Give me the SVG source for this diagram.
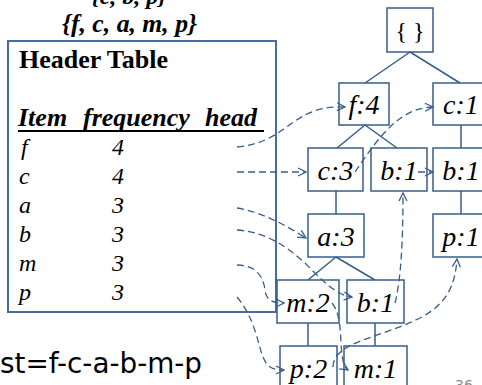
<svg xmlns="http://www.w3.org/2000/svg" width="482" height="385" viewBox="0 0 482 385">
<style>
.serif{font-family:"Liberation Serif","Times New Roman",serif;fill:#000}
.bi{font-weight:bold;font-style:italic}
.box{fill:#fff;stroke:#385D8A;stroke-width:1.5}
.edge{stroke:#385D8A;stroke-width:1.5;fill:none}
.dash{stroke:#385D8A;stroke-width:1.3;fill:none;stroke-dasharray:7 4;marker-end:url(#arr)}
.lbl{font-family:"Liberation Serif","Times New Roman",serif;font-style:italic;font-size:28px;text-anchor:middle;fill:#000}
.row{font-family:"Liberation Serif","Times New Roman",serif;font-style:italic;font-size:24px;fill:#000}
</style>
<defs>
<marker id="arr" viewBox="0 0 10 10" refX="9" refY="5" markerWidth="10" markerHeight="10" markerUnits="userSpaceOnUse" orient="auto">
<path d="M1,1 L9,5 L1,9" fill="none" stroke="#385D8A" stroke-width="1.3"/>
</marker>
</defs>

<g id="transactions">
<text class="serif bi" x="129" y="4" font-size="24" text-anchor="middle">{c, b, p}</text>
<text class="serif bi" x="62" y="32" font-size="25" textLength="135" lengthAdjust="spacingAndGlyphs">{f, c, a, m, p}</text>
</g>

<g id="header-table">
<rect x="8" y="41" width="268" height="271" fill="#fff" stroke="#4A6C9B" stroke-width="2"/>
<text class="serif" x="19" y="68" font-size="26" font-weight="bold">Header Table</text>
<text class="serif bi" y="126" font-size="26"><tspan x="18">Item</tspan><tspan x="83">frequency</tspan><tspan x="205">head</tspan></text>
<line x1="18" y1="131" x2="264" y2="131" stroke="#000" stroke-width="2"/>
<text class="row" x="21" y="155">f</text><text class="row" x="112" y="155">4</text>
<text class="row" x="19" y="184">c</text><text class="row" x="112" y="184">4</text>
<text class="row" x="19" y="213">a</text><text class="row" x="112" y="213">3</text>
<text class="row" x="19" y="242">b</text><text class="row" x="112" y="242">3</text>
<text class="row" x="19" y="271">m</text><text class="row" x="112" y="271">3</text>
<text class="row" x="19" y="300">p</text><text class="row" x="112" y="300">3</text>
</g>

<g id="list-text">
<text x="0" y="373" font-family="'DejaVu Sans',Verdana,sans-serif" font-size="28" fill="#000" textLength="202" lengthAdjust="spacingAndGlyphs">st=f-c-a-b-m-p</text>
</g>
<g id="page-number">
<text x="455" y="390" font-family="'DejaVu Sans',Verdana,sans-serif" font-size="14" fill="#8C8C8C">36</text>
</g>

<g id="node-root"><rect class="box" x="387" y="8" width="46" height="44"/><text class="serif" x="410" y="39" font-size="24" text-anchor="middle">{ }</text></g>
<g id="node-f4"><rect class="box" x="339" y="83" width="50" height="42"/><text class="lbl" x="364" y="114">f:4</text></g>
<g id="node-c1"><rect class="box" x="433" y="83" width="56" height="42"/><text class="lbl" x="461" y="114">c:1</text></g>
<g id="node-c3"><rect class="box" x="308" y="148" width="55" height="43"/><text class="lbl" x="335.5" y="180">c:3</text></g>
<g id="node-b1a"><rect class="box" x="371" y="148" width="56" height="43"/><text class="lbl" x="399" y="180">b:1</text></g>
<g id="node-b1b"><rect class="box" x="433" y="148" width="56" height="43"/><text class="lbl" x="461" y="180">b:1</text></g>
<g id="node-a3"><rect class="box" x="308" y="214" width="56" height="43"/><text class="lbl" x="336" y="246">a:3</text></g>
<g id="node-p1"><rect class="box" x="433" y="214" width="56" height="43"/><text class="lbl" x="461" y="246">p:1</text></g>
<g id="node-m2"><rect class="box" x="277" y="280" width="62" height="43"/><text class="lbl" x="308" y="312">m:2</text></g>
<g id="node-b1c"><rect class="box" x="347" y="280" width="57" height="43"/><text class="lbl" x="375.5" y="312">b:1</text></g>
<g id="node-p2"><rect class="box" x="280" y="346" width="57" height="45"/><text class="lbl" x="308.5" y="378">p:2</text></g>
<g id="node-m1"><rect class="box" x="344" y="346" width="63" height="45"/><text class="lbl" x="375.5" y="378">m:1</text></g>

<g id="connectors">
<path class="edge" d="M410,52 L365,83 M410,52 L460,83 M365,125 L337,148 M365,125 L397,148 M461,125 L461,148 M336,191 L336,214 M461,191 L461,214 M336,257 L308,280 M336,257 L375,280 M308,323 L308,346 M375,323 L375,346"/>
<path class="dash" d="M237,147 C290,142 290,105 345,107"/>
<path class="dash" d="M237,172 L306,172"/>
<path class="dash" d="M237,208 C262,212 285,225 306,238"/>
<path class="dash" d="M237,230 C265,232 285,245 305,263 C320,278 335,295 352,297"/>
<path class="dash" d="M237,265 C255,265 263,275 265,290 C266,300 272,303 284,303"/>
<path class="dash" d="M237,297 C255,318 258,345 263,357 C267,367 272,370 284,370"/>
<path class="dash" d="M355,172 C380,135 400,108 433,107"/>
<path class="dash" d="M418,172 L433,172"/>
<path class="dash" d="M395,303 C401,280 403,240 403,193"/>
<path class="dash" d="M332,303 C342,315 340,340 342,355 C343,363 345,368 348,370"/>
<path class="dash" d="M333,367 C333,342 380,338 420,318 C448,303 455,285 457,259"/>
</g>
</svg>
